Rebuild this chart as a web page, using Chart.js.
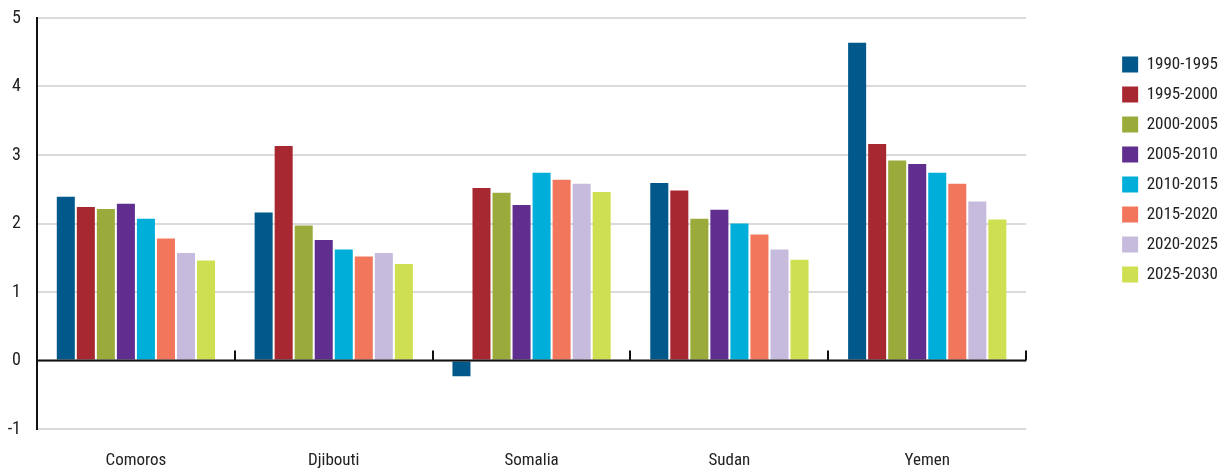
<!DOCTYPE html>
<html>
<head>
<meta charset="utf-8">
<script src="https://cdn.jsdelivr.net/npm/chart.js@4"></script>
<style>
  html, body { margin: 0; padding: 0; background: #fff; }
  #wrap { width: 1228px; height: 470px; }
</style>
</head>
<body>
<div id="wrap"><canvas id="c" width="1228" height="470"></canvas></div>
<script>
const categories = ["Comoros", "Djibouti", "Somalia", "Sudan", "Yemen"];
const periods = ["1990-1995", "1995-2000", "2000-2005", "2005-2010", "2010-2015", "2015-2020", "2020-2025", "2025-2030"];
const v1990 = [2.39, 2.16, -0.23, 2.59, 4.64];
const v1995 = [2.24, 3.13, 2.52, 2.48, 3.16];
const v2000 = [2.21, 1.97, 2.45, 2.07, 2.92];
const v2005 = [2.29, 1.76, 2.27, 2.20, 2.87];
const v2010 = [2.07, 1.62, 2.74, 2.00, 2.74];
const v2015 = [1.78, 1.52, 2.64, 1.84, 2.58];
const v2020 = [1.57, 1.57, 2.58, 1.62, 2.32];
const v2025 = [1.46, 1.41, 2.46, 1.47, 2.06];
const seriesValues = [v1990, v1995, v2000, v2005, v2010, v2015, v2020, v2025];
const colors = ["#00598a", "#a82832", "#9aab3c", "#5f2e8f", "#00afd9", "#f2765c", "#c6bbdc", "#cfdf52"];
const yTicks = [-1, 0, 1, 2, 3, 4, 5];

const FONT = "'Liberation Sans Narrow', 'Roboto Condensed', 'DejaVu Sans Condensed', 'Liberation Sans', sans-serif";
const TEXT = "#222222";

const boundaryTicks = {
  id: 'boundaryTicks',
  afterDatasetsDraw(chart) {
    const x = chart.scales.x, y = chart.scales.y;
    const ctx = chart.ctx;
    const y0 = y.getPixelForValue(0);
    const n = categories.length;
    const half = (x.getPixelForValue(1) - x.getPixelForValue(0)) / 2;
    ctx.save();
    ctx.strokeStyle = '#111';
    ctx.lineWidth = 2;
    ctx.beginPath();
    ctx.moveTo(chart.chartArea.left, y0);
    ctx.lineTo(chart.chartArea.right, y0);
    ctx.stroke();
    for (let i = 1; i <= n; i++) {
      const bx = Math.round(x.getPixelForValue(i - 1) + half);
      ctx.beginPath();
      ctx.moveTo(bx, y0);
      ctx.lineTo(bx, y0 - 10);
      ctx.stroke();
    }
    ctx.restore();
  }
};

new Chart(document.getElementById('c'), {
  type: 'bar',
  data: {
    labels: categories,
    datasets: periods.map((p, i) => ({
      label: p,
      data: seriesValues[i],
      backgroundColor: colors[i],
      borderWidth: 0,
      categoryPercentage: 0.81,
      barPercentage: 0.9
    }))
  },
  options: {
    responsive: false,
    animation: false,
    layout: { padding: { top: 18, right: 0, bottom: 0, left: 0 } },
    plugins: {
      tooltip: { enabled: false },
      legend: {
        position: 'right',
        align: 'start',
        title: { display: true, text: ' ', font: { size: 10 }, padding: { top: 0, bottom: 13 } },
        labels: {
          boxWidth: 16,
          boxHeight: 16,
          padding: 13,
          color: TEXT,
          font: { family: FONT, size: 17 }
        }
      }
    },
    scales: {
      x: {
        grid: { display: false },
        border: { display: false },
        ticks: { color: TEXT, font: { family: FONT, size: 17 }, padding: 14 },
        afterFit(s) { s.height = 41; }
      },
      y: {
        min: -1,
        max: 5,
        afterBuildTicks(s) { s.ticks = yTicks.map(v => ({ value: v })); },
        grid: {
          color: '#dadada',
          lineWidth: 2,
          drawTicks: false
        },
        border: { display: true, color: '#111', width: 2 },
        ticks: { color: TEXT, font: { family: FONT, size: 18 }, padding: 16 },
        afterFit(s) { s.width = 37; s.paddingTop = 0; s.paddingBottom = 0; }
      },
      y2: {
        position: 'right',
        display: true,
        grid: { display: false, drawTicks: false },
        border: { display: false },
        ticks: { display: false },
        afterFit(s) { s.width = 83; s.paddingTop = 0; s.paddingBottom = 0; }
      }
    }
  },
  plugins: [boundaryTicks]
});
</script>
</body>
</html>
